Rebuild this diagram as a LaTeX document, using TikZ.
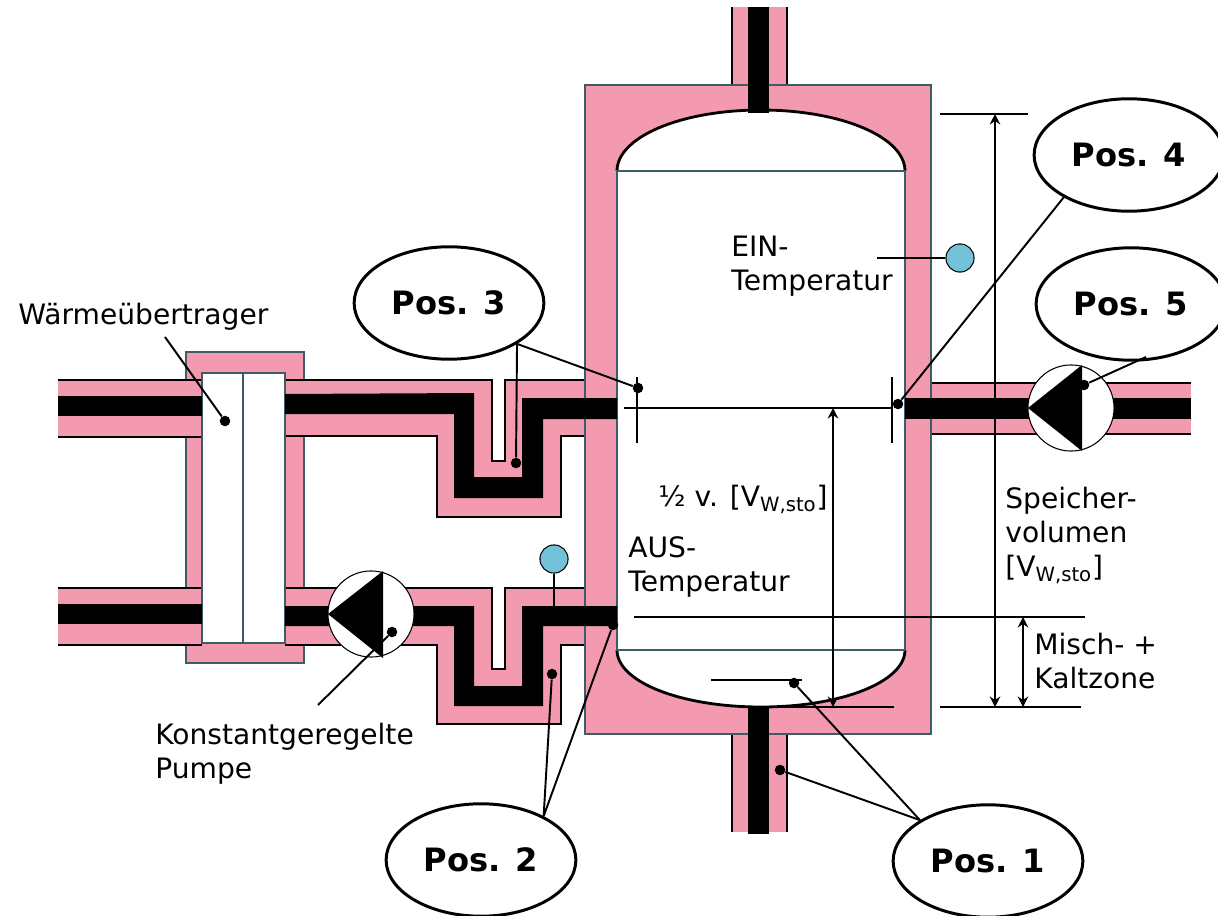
\documentclass[tikz,border=0pt]{standalone}
\usepackage{fontspec}
\setmainfont{DejaVu Sans}
\usetikzlibrary{arrows.meta, shapes.geometric}
\definecolor{storpink}{HTML}{F49AB0}
\definecolor{wallteal}{HTML}{3C5C66}
\definecolor{sensorblue}{HTML}{74C2D8}

\begin{document}
\begin{tikzpicture}[
    x=0.02cm, y=-0.02cm,
    font=\fontsize{16}{19.4}\selectfont,
    wall/.style={draw=wallteal, line width=1.4pt},
    pinkwall/.style={wall, fill=storpink},
    whitewall/.style={wall, fill=white},
    pinkpipe/.style={fill=storpink},
    pipeedge/.style={draw=black, line width=1.1pt},
    fluid/.style={fill=black},
    dome/.style={draw=black, line width=1.6pt, fill=white},
    pumpcircle/.style={circle, draw=black, line width=0.6pt, fill=white, inner sep=0pt, minimum size=49pt},
    dotmark/.style={circle, fill=black, inner sep=0pt, minimum size=6pt},
    leader/.style={draw=black, line width=1.1pt},
    thinline/.style={draw=black, line width=1pt},
    measure/.style={{Stealth[length=6pt, width=6pt, inset=2pt]}-{Stealth[length=6pt, width=6pt, inset=2pt]}, line width=1pt},
    sensor/.style={circle, draw=black, line width=0.6pt, fill=sensorblue, inner sep=0pt, minimum size=16pt},
    posbox/.style={ellipse, draw=black, line width=1.7pt, fill=white, inner sep=0pt,
                   minimum width=108pt, minimum height=64pt,
                   font=\fontsize{18.3}{22}\selectfont\bfseries},
    label/.style={anchor=north west, align=left, inner sep=0pt}
  ]
    \useasboundingbox (0,0) rectangle (1218,916);

    % Heat exchanger casing, pipes go over it
    \draw[pinkwall] (186,352) rectangle (304,663);

    % Pink insulation of the pipes
    \fill[pinkpipe] (58,380) rectangle (202,437);
    \fill[pinkpipe] (58,588) rectangle (202,645);
    \fill[pinkpipe] (285,380) -- (492,380) -- (492,461) -- (505,461) -- (505,380) -- (585,380)
      -- (585,436) -- (561,436) -- (561,517) -- (437,517) -- (437,436) -- (285,436) -- cycle;
    \fill[pinkpipe] (285,588) -- (492,588) -- (492,669) -- (505,669) -- (505,588) -- (585,588)
      -- (585,645) -- (561,645) -- (561,724) -- (437,724) -- (437,645) -- (285,645) -- cycle;
    \fill[pinkpipe] (931,382) rectangle (1191,434);
    \fill[pinkpipe] (732,7) rectangle (787,85);
    \fill[pinkpipe] (732,734) rectangle (787,832);

    % Pipe edges
    \draw[pipeedge] (58,380) -- (202,380) (58,437) -- (202,437);
    \draw[pipeedge] (58,588) -- (202,588) (58,645) -- (202,645);
    \draw[pipeedge] (285,380) -- (492,380) -- (492,461) -- (505,461) -- (505,380) -- (585,380);
    \draw[pipeedge] (285,436) -- (437,436) -- (437,517) -- (561,517) -- (561,436) -- (585,436);
    \draw[pipeedge] (285,588) -- (492,588) -- (492,669) -- (505,669) -- (505,588) -- (585,588);
    \draw[pipeedge] (285,645) -- (437,645) -- (437,724) -- (561,724) -- (561,645) -- (585,645);
    \draw[pipeedge] (931,383) -- (1191,383) (931,434) -- (1191,434);
    \draw[pipeedge] (732,7) -- (732,85) (787,7) -- (787,85);
    \draw[pipeedge] (732,734) -- (732,832) (787,734) -- (787,832);

    % Storage tank
    \draw[pinkwall] (585,85) rectangle (931,734);
    \fill[white] (617,171) rectangle (905,650);
    \draw[dome] (617,171) .. controls (617,137) and (681,110) .. (761,110)
      .. controls (841,110) and (905,137) .. (905,171);
    \draw[dome] (617,650) .. controls (617,682) and (681,707) .. (761,707)
      .. controls (841,707) and (905,682) .. (905,650);
    \draw[wall] (617,171) rectangle (905,650);

    % Heat exchanger plates
    \draw[whitewall] (202,373) rectangle (285,643);
    \draw[wall] (243,373) -- (243,643);

    % Black fluid paths
    \fill[fluid] (58,396) rectangle (202,416);
    \fill[fluid] (58,604) rectangle (202,624);
    \fill[fluid] (285,394) -- (474,393) -- (474,477) -- (522,477) -- (522,398) -- (617,398)
      -- (617,419) -- (543,419) -- (543,498) -- (454,498) -- (454,414) -- (285,414) -- cycle;
    \fill[fluid] (285,606) -- (474,606) -- (474,686) -- (522,686) -- (522,606) -- (617,606)
      -- (617,626) -- (543,626) -- (543,706) -- (454,706) -- (454,626) -- (285,626) -- cycle;
    \fill[fluid] (905,398) rectangle (1191,419);
    \fill[fluid] (748,7) rectangle (769,113);
    \fill[fluid] (748,707) rectangle (769,834);

    % Pumps
    \node[pumpcircle] (pumpright) at (1071,408) {};
    \fill[fluid] (1028,408) -- (1082,365) -- (1082,451) -- cycle;
    \node[pumpcircle] (pumpleft) at (371,614) {};
    \fill[fluid] (328,614) -- (383,571) -- (383,658) -- cycle;

    % Measuring positions in the tank
    \draw[line width=1.5pt] (711,680) -- (802,680);
    \draw[line width=1.5pt] (637,377) -- (637,443);
    \draw[line width=1.5pt] (892,377) -- (892,443);
    \draw[thinline] (624,408) -- (892,408);
    \draw[thinline] (634,617) -- (1085,617);
    \draw[thinline] (767,707) -- (894,707);
    \draw[thinline] (940,114) -- (1028,114);
    \draw[thinline] (940,707) -- (1081,707);

    % Dimension arrows
    \draw[measure] (995,114) -- (995,707);
    \draw[measure] (1023,617) -- (1023,707);
    \draw[measure] (833,408) -- (833,707);

    % Temperature sensors
    \node[sensor] (sensorein) at (960,258) {};
    \node[sensor] (sensoraus) at (554,559) {};
    \coordinate (einstart) at (877,258);
    \coordinate (ausfluid) at (554,606);
    \draw[thinline] (einstart) -- (sensorein);
    \draw[thinline] (sensoraus) -- (ausfluid);

    % Dots on the measuring positions
    \node[dotmark] (dotwt)   at (225,421) {};
    \node[dotmark] (dotpump) at (392,632) {};
    \node[dotmark] (dotp3a)  at (516,463) {};
    \node[dotmark] (dotp3b)  at (638,388) {};
    \node[dotmark] (dotp4)   at (898,404) {};
    \node[dotmark] (dotp5)   at (1084,385) {};
    \node[dotmark] (dotp2a)  at (552,674) {};
    \node[dotmark] (dotp2b)  at (613,625) {};
    \node[dotmark] (dotp1a)  at (794,683) {};
    \node[dotmark] (dotp1b)  at (780,770) {};

    % Position bubbles
    \node[posbox] (pos3) at (449,303) {Pos. 3};
    \node[posbox] (pos4) at (1129,155) {Pos. 4};
    \node[posbox] (pos5) at (1131,304) {Pos. 5};
    \node[posbox] (pos2) at (481,860) {Pos. 2};
    \node[posbox] (pos1) at (988,861) {Pos. 1};

    % Texts
    \node[label] (txtein) at (731,236) {EIN-\\Temperatur};
    \node[label] (txtaus) at (628,536) {AUS-\\Temperatur};
    \node[label] (txtwt) at (18,303) {Wärmeübertrager};
    \node[label] (txthalf) at (658,485) {½ v. [V\textsubscript{W,sto}]};
    \node[label] (txtvol) at (1005,487) {Speicher-\\volumen\\{}[V\textsubscript{W,sto}]};
    \node[label] (txtmisch) at (1034,633) {Misch- +\\Kaltzone};
    \node[label] (txtpump) at (155,723) {Konstantgeregelte\\Pumpe};

    % Leader lines
    \coordinate (leadwt) at (165,337);
    \coordinate (leadpump) at (318,705);
    \coordinate (leadp5) at (1146,357);
    \draw[leader] (leadwt) -- (dotwt);
    \draw[leader] (leadpump) -- (dotpump);
    \draw[leader] (leadp5) -- (dotp5);
    \draw[leader] (pos3.-31) -- (dotp3a);
    \draw[leader] (pos3.-31) -- (dotp3b);
    \draw[leader] (pos4.-147) -- (dotp4);
    \draw[leader] (pos2.35) -- (dotp2a);
    \draw[leader] (pos2.35) -- (dotp2b);
    \draw[leader] (pos1.-211) -- (dotp1a);
    \draw[leader] (pos1.-211) -- (dotp1b);
  \end{tikzpicture}
\end{document}
